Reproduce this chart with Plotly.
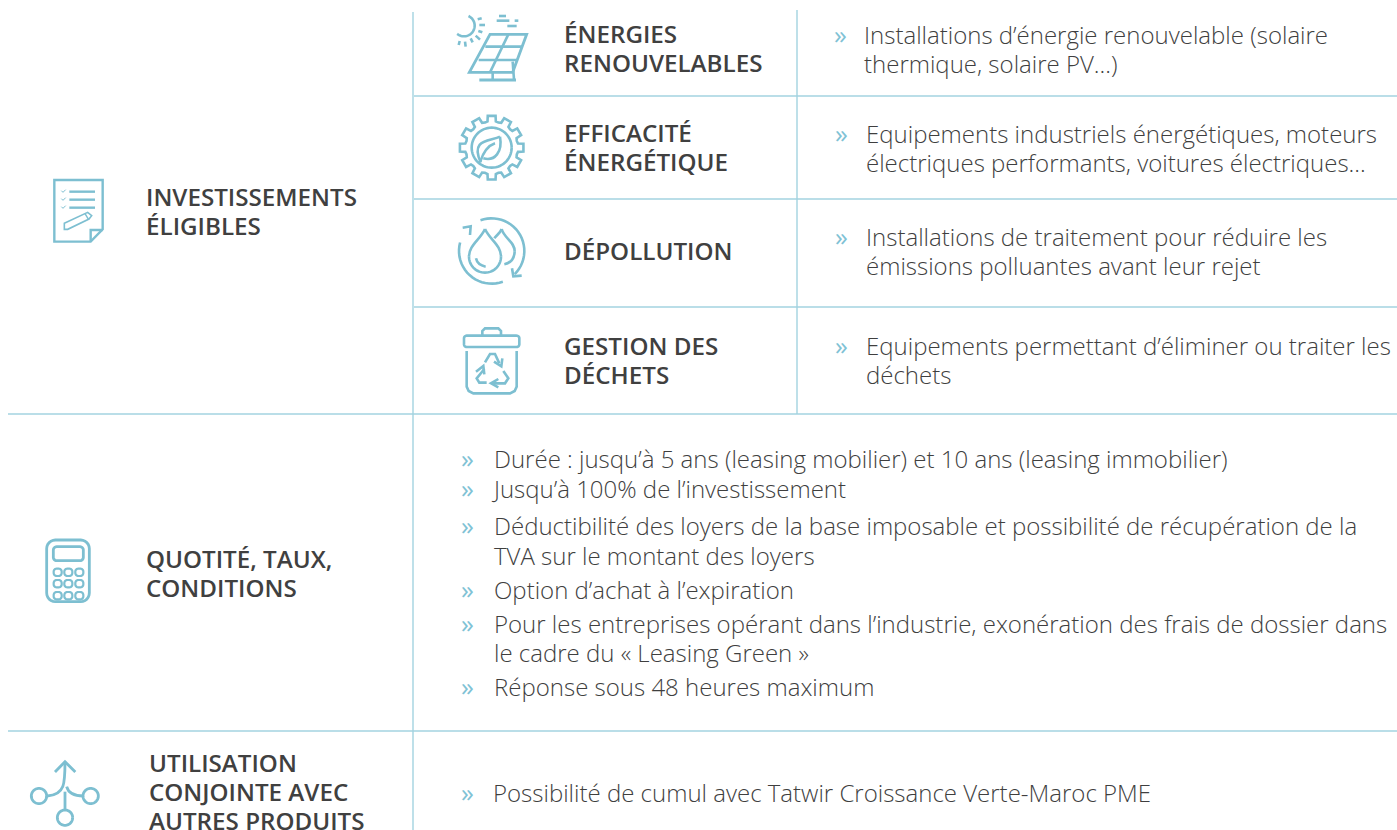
import math
import plotly.graph_objects as go

W, H = 1397, 830
LINE = "#a3d3e0"
ICON = "#7dbfd1"
INK = "#3f3f3f"
HEAD = "#404040"
BODY_FONT = "Open Sans"
HEAD_FONT = "Open Sans"
BODY_SIZE = 24.0
HEAD_SIZE = 24.2
BODY_WEIGHT = 300
HEAD_WEIGHT = 600
TEXT_DY = 2

# (x, y, text)
left_heads = [
    (146, 198, "INVESTISSEMENTS"), (146, 227, "ÉLIGIBLES"),
    (146, 560, "QUOTITÉ, TAUX,"), (146, 589, "CONDITIONS"),
    (149, 764, "UTILISATION"), (149, 793, "CONJOINTE AVEC"), (149, 822, "AUTRES PRODUITS"),
]
mid_heads = [
    (564, 35, "ÉNERGIES"), (564, 64, "RENOUVELABLES"),
    (564, 134, "EFFICACITÉ"), (564, 163, "ÉNERGÉTIQUE"),
    (564, 252, "DÉPOLLUTION"),
    (564, 347, "GESTION DES"), (564, 376, "DÉCHETS"),
]
body_lines = [
    (864, 36, "Installations d’énergie renouvelable (solaire"),
    (864, 65, "thermique, solaire PV...)"),
    (866, 135, "Equipements industriels énergétiques, moteurs"),
    (866, 164, "électriques performants, voitures électriques..."),
    (866, 238, "Installations de traitement pour réduire les"),
    (866, 267, "émissions polluantes avant leur rejet"),
    (866, 347, "Equipements permettant d’éliminer ou traiter les"),
    (866, 376, "déchets"),
    (494, 460, "Durée : jusqu’à 5 ans (leasing mobilier) et 10 ans (leasing immobilier)"),
    (494, 490, "Jusqu’à 100% de l’investissement"),
    (494, 527, "Déductibilité des loyers de la base imposable et possibilité de récupération de la"),
    (494, 557, "TVA sur le montant des loyers"),
    (494, 591, "Option d’achat à l’expiration"),
    (494, 625, "Pour les entreprises opérant dans l’industrie, exonération des frais de dossier dans"),
    (494, 654, "le cadre du « Leasing Green »"),
    (494, 688, "Réponse sous 48 heures maximum"),
    (493, 794, "Possibilité de cumul avec Tatwir Croissance Verte-Maroc PME"),
]
bullets = [(834, 35), (835, 134), (835, 237), (835, 346), (461, 459), (461, 489), (461, 526),
           (461, 590), (461, 624), (461, 687), (461, 793)]

h_rules = [(414, 1397, 96), (414, 1397, 199), (414, 1397, 307), (8, 1397, 414), (8, 1397, 731)]
v_rules = [(413, 12, 830), (797, 10, 414)]

shapes = []

def stroke(path, width=2.6, color=ICON):
    shapes.append(dict(type="path", path=path, line=dict(color=color, width=width),
                       fillcolor="rgba(0,0,0,0)", layer="above"))

def mapper(ox, oy):
    return lambda x, y: (ox + x / 3, oy + y / 3)

def poly(m, pts, close=False, width=2.6):
    p = [m(*q) for q in pts]
    s = "M" + " L".join(f"{a:.2f},{b:.2f}" for a, b in p)
    stroke(s + (" Z" if close else ""), width)

def arc(m, cx, cy, r, a0, a1, width=2.6):
    n = max(6, int(abs(a1 - a0) / 6))
    pts = [(cx + r * math.cos(math.radians(a0 + (a1 - a0) * i / n)),
            cy + r * math.sin(math.radians(a0 + (a1 - a0) * i / n))) for i in range(n + 1)]
    poly(m, pts, width=width)

def rrect(m, x0, y0, x1, y1, r, width=2.6):
    pts = []
    for cx, cy, a in [(x1 - r, y0 + r, -90), (x1 - r, y1 - r, 0), (x0 + r, y1 - r, 90), (x0 + r, y0 + r, 180)]:
        for i in range(7):
            t = math.radians(a + 15 * i)
            pts.append((cx + r * math.cos(t), cy + r * math.sin(t)))
    poly(m, pts, close=True, width=width)

def curve(m, a, b, c, width=2.6):
    p0, p1, p2 = m(*a), m(*b), m(*c)
    stroke(f"M{p0[0]:.2f},{p0[1]:.2f} Q{p1[0]:.2f},{p1[1]:.2f} {p2[0]:.2f},{p2[1]:.2f}", width)

def cub(m, a, c1, c2, b, width=2.6):
    P = [m(*q) for q in (a, c1, c2, b)]
    stroke(f"M{P[0][0]:.2f},{P[0][1]:.2f} C{P[1][0]:.2f},{P[1][1]:.2f} {P[2][0]:.2f},{P[2][1]:.2f} {P[3][0]:.2f},{P[3][1]:.2f}", width)

# ---- solar icon
m = mapper(440, 5)
poly(m, [(150, 88), (260, 88), (218, 202), (88, 202)], close=True, width=2.8)
poly(m, [(136, 125), (246, 125)]); poly(m, [(116, 165), (232, 165)])
poly(m, [(205, 88), (150, 202)])
poly(m, [(158, 202), (158, 224)]); poly(m, [(218, 170), (222, 224)]); poly(m, [(118, 225), (228, 225)], width=2.8)
arc(m, 72, 62, 32, -65, 130)
for a, b in [((113, 43), (125, 40)), ((118, 60), (135, 60)), ((115, 78), (127, 82)), ((107, 92), (120, 104)),
             ((92, 100), (98, 112)), ((75, 110), (77, 125)), ((59, 108), (56, 120))]:
    poly(m, [a, b])
for a, b in [((177, 33), (198, 33)), ((170, 47), (208, 47)), ((224, 47), (235, 47)), ((202, 63), (230, 63))]:
    poly(m, [a, b])

# ---- gear icon
pts = []
teeth = 12
for i in range(teeth):
    c = i * 360 / teeth - 90
    for da, r in [(-15, 78), (-9, 80), (-7, 96), (7, 96), (9, 80), (15, 78)]:
        t = math.radians(c + da)
        pts.append((155 + r * math.cos(t), 428 + r * math.sin(t)))
poly(m, pts, close=True, width=2.6)
arc(m, 155, 428, 60, 0, 360)
cub(m, (122, 472), (90, 400), (150, 410), (180, 395))
cub(m, (180, 395), (188, 440), (165, 470), (130, 460))
curve(m, (120, 472), (135, 425), (165, 415))

# ---- drops icon
m = mapper(440, 205)
arc(m, 155, 138, 98, -110, 45)
poly(m, [(216, 190), (220, 214), (245, 212)])
arc(m, 155, 138, 98, 70, 195)
poly(m, [(68, 68), (92, 64), (90, 90)])
cub(m, (135, 72), (120, 105), (87, 120), (87, 155))
cub(m, (135, 72), (150, 105), (183, 120), (183, 155))
arc(m, 135, 155, 48, 0, 180)
curve(m, (108, 160), (112, 180), (137, 185))
cub(m, (163, 100), (170, 90), (180, 85), (185, 72))
cub(m, (185, 72), (192, 100), (225, 110), (224, 140))
curve(m, (224, 140), (222, 172), (193, 178))

# ---- bin icon
rrect(m, 72, 392, 238, 426, 8)
poly(m, [(127, 392), (127, 378), (135, 370), (175, 370), (183, 378), (183, 392)])
poly(m, [(80, 438), (80, 545), (86, 558), (100, 565), (210, 565), (224, 558), (230, 545), (230, 438)])
poly(m, [(135, 472), (150, 447), (165, 447), (178, 475)])
poly(m, [(162, 470), (184, 484), (187, 460)])
poly(m, [(133, 492), (110, 520), (118, 533), (140, 533)])
poly(m, [(108, 500), (130, 483), (133, 508)])
poly(m, [(190, 498), (205, 520), (195, 535), (155, 535)])
poly(m, [(175, 522), (153, 535), (175, 547)])

# ---- document icon
m = mapper(30, 170)
poly(m, [(73, 30), (218, 30), (218, 178), (182, 215), (73, 215)], close=True, width=2.4)
poly(m, [(218, 180), (182, 180), (182, 215)], width=2.4)
for y in (65, 89, 113):
    poly(m, [(118, y), (195, y)], width=2.4)
    poly(m, [(94, y - 3), (99, y + 2), (107, y - 6)], width=1)
poly(m, [(103, 160), (173, 127), (185, 137), (177, 147), (113, 178), (103, 178)], close=True, width=1.6)
poly(m, [(165, 131), (176, 149)], width=1.4)

# ---- calculator icon
m = mapper(30, 530)
rrect(m, 50, 30, 178, 215, 26, 2.8)
rrect(m, 70, 50, 160, 92, 10, 2.8)
for cy in (127, 161, 197):
    for cx in (83, 115, 148):
        rrect(m, cx - 12, cy - 11, cx + 12, cy + 11, 9, 2.2)

# ---- branching icon
m = mapper(20, 750)
poly(m, [(105, 66), (135, 35), (166, 66)], width=2.8)
cub(m, (135, 35), (135, 100), (135, 135), (82, 138), 2.8)
arc(m, 57, 138, 23, 0, 360, 2.8)
arc(m, 212, 138, 23, 0, 360, 2.8)
cub(m, (140, 110), (145, 130), (165, 138), (190, 138), 2.8)
poly(m, [(135, 125), (135, 180)], width=2.8)
arc(m, 135, 203, 23, 0, 360, 2.8)

for x0, x1, y in h_rules:
    shapes.append(dict(type="line", x0=x0, x1=x1, y0=y, y1=y, line=dict(color=LINE, width=1.4), layer="below"))
for x, y0, y1 in v_rules:
    shapes.append(dict(type="line", x0=x, x1=x, y0=y0, y1=y1, line=dict(color=LINE, width=1.4), layer="below"))

fig = go.Figure()

def text_trace(rows, color, size, weight, family):
    fig.add_trace(go.Scatter(
        x=[r[0] for r in rows], y=[r[1] + TEXT_DY for r in rows], text=[r[2] for r in rows],
        mode="text", textposition="middle right", cliponaxis=False, hoverinfo="skip",
        textfont=dict(color=color, size=size, family=family, weight=weight)))

text_trace(left_heads + mid_heads, HEAD, HEAD_SIZE, HEAD_WEIGHT, HEAD_FONT)
text_trace(body_lines, INK, BODY_SIZE, BODY_WEIGHT, BODY_FONT)
text_trace([(x, y, "»") for x, y in bullets], "#7fc2d5", 26, 400, BODY_FONT)

fig.update_layout(
    width=W, height=H, margin=dict(l=0, r=0, t=0, b=0), showlegend=False,
    paper_bgcolor="white", plot_bgcolor="white", shapes=shapes,
    xaxis=dict(range=[0, W], visible=False, fixedrange=True),
    yaxis=dict(range=[H, 0], visible=False, fixedrange=True),
)
fig.write_html("out.html", config={"displayModeBar": False},
               default_width=f"{W}px", default_height=f"{H}px",
               post_script="document.body.style.margin='0';document.documentElement.style.overflow='hidden';")
